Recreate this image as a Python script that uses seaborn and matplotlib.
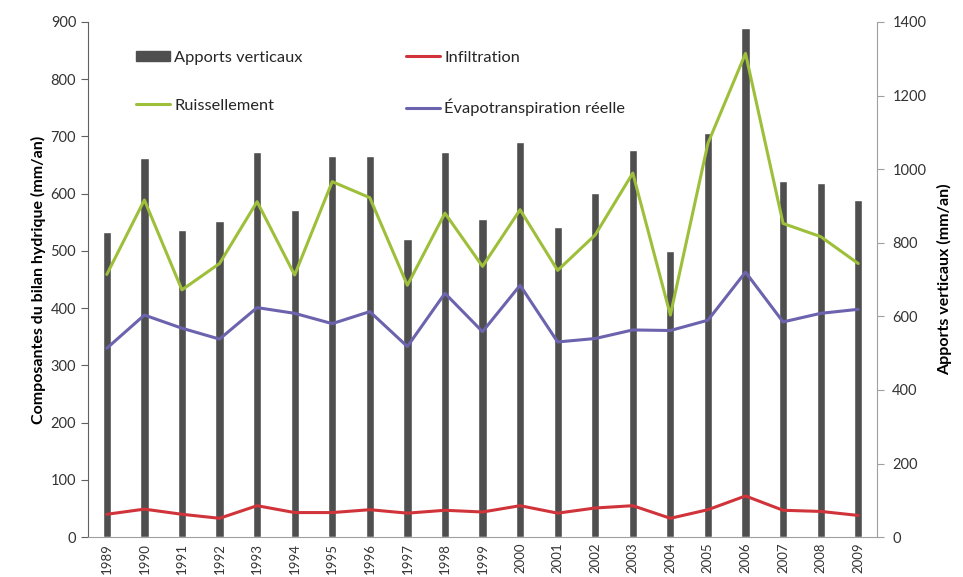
import numpy as np
import pandas as pd
import matplotlib
matplotlib.use("Agg")
import matplotlib.pyplot as plt
from matplotlib.patches import Patch
from matplotlib.lines import Line2D
import seaborn as sns

# annual water balance components (mm/an)
years = [str(y) for y in range(1989, 2010)]
apports = [829, 1030, 835, 859, 1046, 888, 1036, 1036, 809, 1046, 865,
           1075, 843, 934, 1052, 777, 1097, 1383, 969, 961, 915]
ruissellement = [459, 589, 432, 478, 586, 458, 621, 593, 440, 566, 473,
                 572, 466, 528, 636, 388, 688, 845, 548, 525, 478]
etr = [330, 388, 365, 346, 401, 391, 373, 394, 333, 426, 359,
       440, 341, 347, 362, 361, 379, 463, 376, 391, 398]
infiltration = [40, 49, 40, 33, 55, 43, 43, 48, 42, 47, 44,
                55, 42, 51, 55, 33, 48, 72, 47, 45, 38]

df = pd.DataFrame({
    "annee": years,
    "pos": np.arange(len(years)),
    "apports": apports,
    "ruissellement": ruissellement,
    "etr": etr,
    "infiltration": infiltration,
})

sns.set_style("white")
plt.rcParams["font.family"] = ["Lato", "DejaVu Sans"]

c_bar = "#4f4f4f"
c_green = "#9dbf3a"
c_red = "#d0343a"
c_purple = "#6b63ae"
c_axis = "#a0a0a0"
c_text = "#333333"

fig, ax = plt.subplots(figsize=(9.63, 5.77), dpi=100)
fig.subplots_adjust(left=0.0914, right=0.9107, top=0.962, bottom=0.069)
ax2 = ax.twinx()

# bars on the secondary (right) axis
sns.barplot(data=df, x="annee", y="apports", ax=ax2, color=c_bar,
            width=0.22, saturation=1)

# lines on the primary (left) axis, drawn above the bars
sns.lineplot(data=df, x="pos", y="ruissellement", ax=ax, color=c_green, lw=2.2)
sns.lineplot(data=df, x="pos", y="etr", ax=ax, color=c_purple, lw=2.2)
sns.lineplot(data=df, x="pos", y="infiltration", ax=ax, color=c_red, lw=2.2)

ax.set_zorder(ax2.get_zorder() + 1)
ax.patch.set_visible(False)

ax.set_xlim(-0.5, len(years) - 0.5)
ax.set_ylim(0, 900)
ax2.set_ylim(0, 1400)
ax.set_yticks(range(0, 901, 100))
ax2.set_yticks(range(0, 1401, 200))

ax.set_xticks(df["pos"])
ax.set_xticklabels(years, rotation=90, fontsize=9.5, color=c_text)
ax.set_xticks(np.arange(-0.5, len(years), 1), minor=True)
ax.tick_params(axis="x", which="major", length=0, pad=4)
ax.tick_params(axis="x", which="minor", length=5, color=c_axis, direction="out")
ax2.tick_params(axis="x", which="both", length=0)
ax2.set_xlabel("")

ax.tick_params(axis="y", length=5, color="#606060", labelsize=10.5, labelcolor=c_text,
               direction="out", left=True)
ax2.tick_params(axis="y", length=5, color=c_axis, labelsize=10.5, labelcolor=c_text,
                direction="out", right=True, pad=6)

for a in (ax, ax2):
    a.spines["top"].set_visible(False)
ax.spines["right"].set_visible(False)
ax.spines["left"].set_color("#606060")
ax.spines["bottom"].set_color(c_axis)
ax2.spines["left"].set_visible(False)
ax2.spines["bottom"].set_visible(False)
ax2.spines["right"].set_color(c_axis)

ax.set_xlabel("")
ax.set_ylabel("Composantes du bilan hydrique (mm/an)", fontsize=11.5,
              fontweight="bold", color="black", labelpad=3)
ax2.set_ylabel("Apports verticaux (mm/an)", fontsize=11.5, fontweight="bold",
               color="black", labelpad=8)

handles = [
    Patch(facecolor=c_bar, edgecolor=c_bar),
    Line2D([], [], color=c_green, lw=2.2),
    Line2D([], [], color=c_red, lw=2.2),
    Line2D([], [], color=c_purple, lw=2.2),
]
labels = ["Apports verticaux", "Ruissellement", "Infiltration",
          "Évapotranspiration réelle"]
ax.legend(handles, labels, ncol=2, loc="upper left", bbox_to_anchor=(0.05, 0.96),
          frameon=False, fontsize=11.8, handlelength=2.1, handleheight=0.55,
          handletextpad=0.25, labelspacing=2.07, columnspacing=6.3, borderpad=0)

fig.savefig("out.png", dpi=100)
